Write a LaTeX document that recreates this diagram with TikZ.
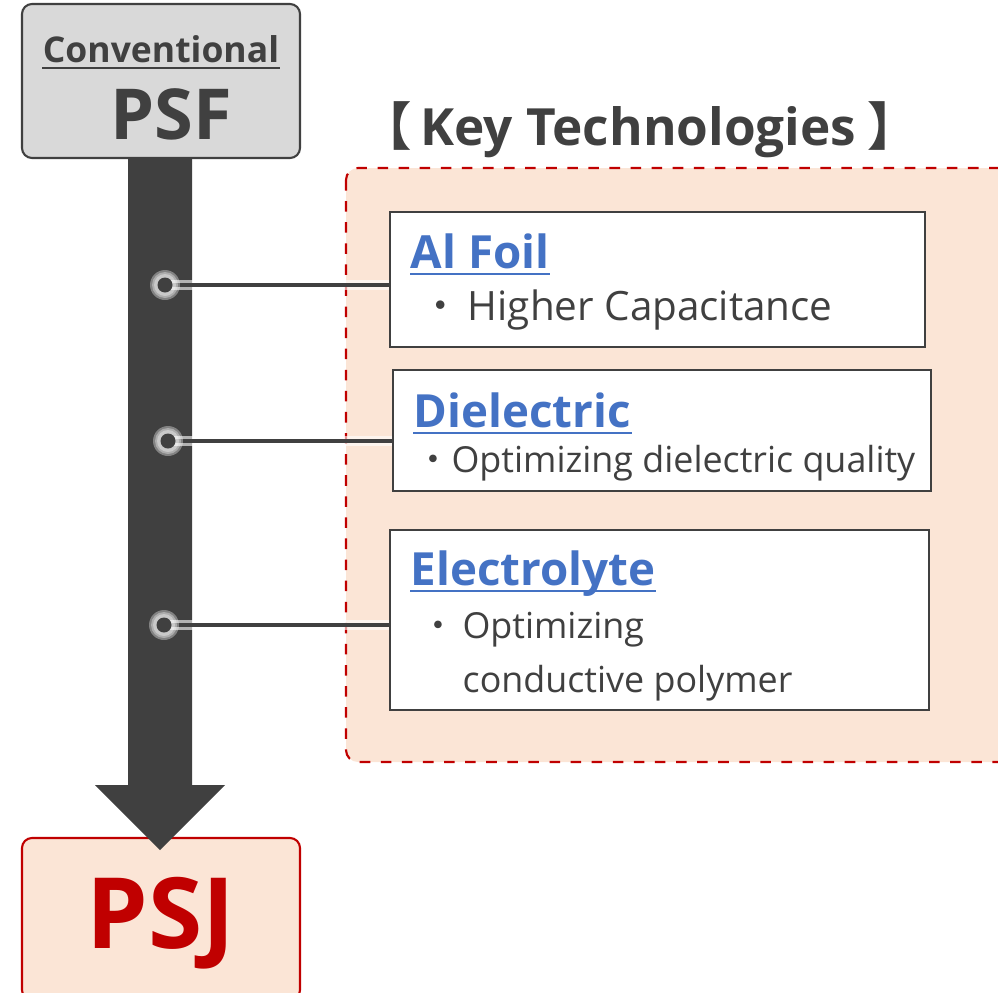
\documentclass[tikz,border=0pt]{standalone}
\usepackage{fontspec}
\setmainfont{Open Sans}
\newfontfamily\cjk{Noto Sans CJK JP}
\usepackage{tikz}
\usetikzlibrary{positioning}
\definecolor{inkgray}{HTML}{404040}
\definecolor{boxgray}{HTML}{D9D9D9}
\definecolor{psjred}{HTML}{C00000}
\definecolor{peach}{HTML}{FBE5D6}
\definecolor{techblue}{HTML}{4472C4}
\tikzset{
  stagebox/.style={rectangle, rounded corners=1mm, line width=0.6pt, minimum width=27.8mm},
  techbox/.style={rectangle, draw=inkgray, fill=white, line width=0.6pt},
  techtitle/.style={inner sep=0pt, anchor=base west, font=\fontsize{13}{15}\selectfont\bfseries, text=techblue},
  techtext/.style={inner sep=0pt, anchor=base west, font=\fontsize{11.5}{14}\selectfont, text=inkgray},
  smalltext/.style={techtext, font=\fontsize{10.2}{12}\selectfont},
  titleline/.style={draw=techblue, line width=0.8pt},
  link/.style={draw=inkgray, line width=1pt,
               preaction={draw, white, opacity=0.6, line width=3pt}}, % halo over the shaft
  glow/.style={fill=white, opacity=0.35},
}

\begin{document}
\begin{tikzpicture}[x=0.1mm, y=-0.1mm]
  \useasboundingbox (0,0) rectangle (998,992);

  % key technologies panel
  \node[inner sep=0pt, anchor=base west, font=\fontsize{14.6}{16}\selectfont\bfseries, text=inkgray] (keytitle) at (360,145) {{\cjk 【}\,Key Technologies\hspace{0.4ex}{\cjk 】}};
  \draw[psjred, fill=peach, dashed, line width=0.6pt, rounded corners=1.2mm] (346,168) rectangle (1010,762);

  \node[techbox, minimum width=53.5mm, minimum height=13.5mm] (box1) at (657.5,279.5) {};
  \node[techbox, minimum width=53.8mm, minimum height=12.1mm] (box2) at (662,430.5) {};
  \node[techbox, minimum width=53.9mm, minimum height=18mm] (box3) at (659.5,620) {};

  \node[techtitle] (title1) at (410,268) {Al Foil};
  \node[techtitle] (title2) at (413,427) {Dielectric};
  \node[techtitle] (title3) at (410,585) {Electrolyte};
  \foreach \t in {title1,title2,title3}
    \draw[titleline] ([shift={(0,6)}]\t.base west) -- ([shift={(0,6)}]\t.base east);

  \node[techtext] (text1) at (420,320) {{\cjk ・}\,Higher Capacitance};
  \node[smalltext] (text2) at (415,472) {{\cjk ・}Optimizing dielectric quality};
  \node[smalltext] (text3) at (420,638) {{\cjk ・}\,Optimizing};
  \node[smalltext] (text4) at (462,692) {conductive polymer};

  % conventional to new series
  \node[stagebox, draw=psjred, fill=peach, minimum height=16.2mm] (psj) at (161,919) {};
  \node[inner sep=0pt, anchor=base, font=\fontsize{28}{32}\selectfont\bfseries, text=psjred] (psjlabel) at (161,948) {PSJ};
  \node[stagebox, draw=inkgray, fill=boxgray, minimum height=15.4mm] (psf) at (161,81) {};
  \node[inner sep=0pt, anchor=base, font=\fontsize{10.1}{12}\selectfont\bfseries, text=inkgray] (convlabel) at (161,62) {Conventional};
  \draw[inkgray, line width=0.6pt] ([shift={(0,6)}]convlabel.base west) -- ([shift={(0,6)}]convlabel.base east);
  \node[inner sep=0pt, anchor=base, font=\fontsize{20}{24}\selectfont\bfseries, text=inkgray] (psflabel) at (171,139) {PSF};

  \fill[inkgray] (128,0 |- psf.south) -- (128,785) -- (95,785) -- (160,850)
    -- (225,785) -- (192,785) -- (192,0 |- psf.south) -- cycle;

  \coordinate (tap1) at (165,285);
  \coordinate (tap2) at (168,441);
  \coordinate (tap3) at (164,625);
  \draw[link] (tap1) -- (tap1 -| box1.west);
  \draw[link] (tap2) -- (tap2 -| box2.west);
  \draw[link] (tap3) -- (tap3 -| box3.west);
  \foreach \i in {1,2,3} {
    \foreach \r in {1.5,1.3,1.1}
      \fill[glow] (tap\i) circle [radius=\r mm];
    \fill[inkgray] (tap\i) circle [radius=0.75mm];
  }
\end{tikzpicture}
\end{document}
